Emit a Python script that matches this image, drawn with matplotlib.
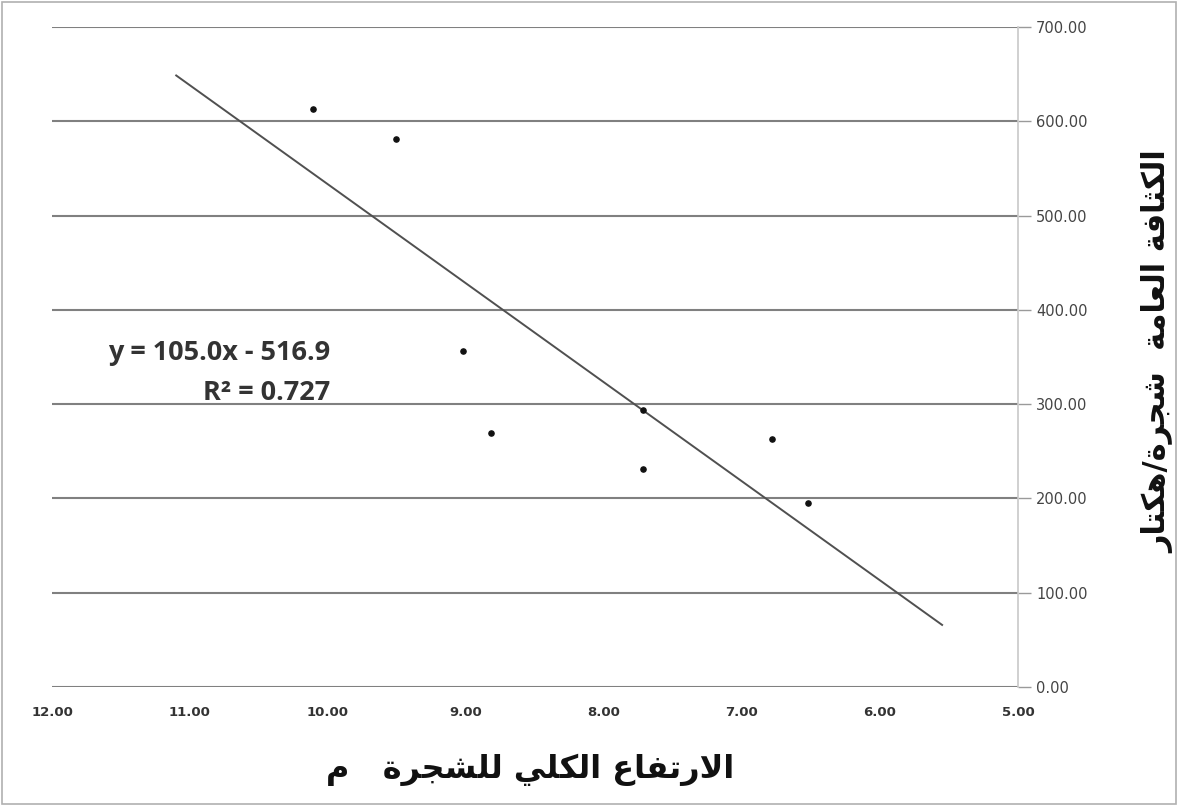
import matplotlib
matplotlib.use("Agg")
import matplotlib.pyplot as plt
from matplotlib.patches import Rectangle

# ---------------- data ----------------
heights = [10.11, 9.51, 9.02, 8.82, 7.72, 7.72, 6.78, 6.52]
densities = [613, 581, 356, 269, 294, 231, 263, 195]
trend_slope = 105.0
trend_intercept = -516.9
trend_x = [11.1, 5.55]
x_ticks = [12, 11, 10, 9, 8, 7, 6, 5]
y_ticks = [0, 100, 200, 300, 400, 500, 600, 700]
eq_text = "y = 105.0x - 516.9"
r2_text = "R² = 0.727"
xlabel_ar = "الارتفاع الكلي للشجرة   م"
ylabel_ar = "الكثافة العامة  شجرة/هكتار"

# ---------------- minimal Arabic shaping ----------------
# letter: (isolated, final, initial, medial); None for right-joining only
FORMS = {
    '\u0627': (0xFE8D, 0xFE8E, None, None),
    '\u0628': (0xFE8F, 0xFE90, 0xFE91, 0xFE92),
    '\u0629': (0xFE93, 0xFE94, None, None),
    '\u062A': (0xFE95, 0xFE96, 0xFE97, 0xFE98),
    '\u062B': (0xFE99, 0xFE9A, 0xFE9B, 0xFE9C),
    '\u062C': (0xFE9D, 0xFE9E, 0xFE9F, 0xFEA0),
    '\u062D': (0xFEA1, 0xFEA2, 0xFEA3, 0xFEA4),
    '\u062E': (0xFEA5, 0xFEA6, 0xFEA7, 0xFEA8),
    '\u062F': (0xFEA9, 0xFEAA, None, None),
    '\u0630': (0xFEAB, 0xFEAC, None, None),
    '\u0631': (0xFEAD, 0xFEAE, None, None),
    '\u0632': (0xFEAF, 0xFEB0, None, None),
    '\u0633': (0xFEB1, 0xFEB2, 0xFEB3, 0xFEB4),
    '\u0634': (0xFEB5, 0xFEB6, 0xFEB7, 0xFEB8),
    '\u0639': (0xFEC9, 0xFECA, 0xFECB, 0xFECC),
    '\u0641': (0xFED1, 0xFED2, 0xFED3, 0xFED4),
    '\u0642': (0xFED5, 0xFED6, 0xFED7, 0xFED8),
    '\u0643': (0xFED9, 0xFEDA, 0xFEDB, 0xFEDC),
    '\u0644': (0xFEDD, 0xFEDE, 0xFEDF, 0xFEE0),
    '\u0645': (0xFEE1, 0xFEE2, 0xFEE3, 0xFEE4),
    '\u0646': (0xFEE5, 0xFEE6, 0xFEE7, 0xFEE8),
    '\u0647': (0xFEE9, 0xFEEA, 0xFEEB, 0xFEEC),
    '\u0648': (0xFEED, 0xFEEE, None, None),
    '\u064A': (0xFEF1, 0xFEF2, 0xFEF3, 0xFEF4),
}


def shape_arabic(text):
    # lam-alef ligature handled as a right-joining letter
    chars = []
    i = 0
    while i < len(text):
        if text[i] == '\u0644' and i + 1 < len(text) and text[i + 1] == '\u0627':
            chars.append('LA')
            i += 2
        else:
            chars.append(text[i])
            i += 1

    def forms(c):
        if c == 'LA':
            return (0xFEFB, 0xFEFC, None, None)
        return FORMS.get(c)

    out = []
    for k, c in enumerate(chars):
        f = forms(c)
        if f is None:
            out.append(c)
            continue
        prev = forms(chars[k - 1]) if k > 0 else None
        nxt = forms(chars[k + 1]) if k + 1 < len(chars) else None
        join_prev = prev is not None and prev[2] is not None
        join_next = nxt is not None and f[2] is not None
        if join_prev and join_next:
            cp = f[3]
        elif join_prev:
            cp = f[1]
        elif join_next:
            cp = f[2]
        else:
            cp = f[0]
        out.append(chr(cp))
    return ''.join(out)[::-1]


# ---------------- figure ----------------
W, H = 1178, 806
fig = plt.figure(figsize=(W / 100, H / 100), dpi=100)
fig.patch.set_facecolor("white")
fig.add_artist(Rectangle((0.002, 0.002), 0.996, 0.996, transform=fig.transFigure,
                         fill=False, edgecolor="#b0b0b0", linewidth=1.2))

ax = fig.add_axes([52 / W, 1 - 687 / H, (1018 - 52) / W, (687 - 27) / H])
ax.set_facecolor("white")
ax.set_xlim(12, 5)
ax.set_ylim(0, 700)

for yv in y_ticks:
    ax.axhline(yv, color="#808080", linewidth=1.5, zorder=1)

ax.plot(trend_x, [trend_slope * v + trend_intercept for v in trend_x],
        color="#505050", linewidth=1.4, zorder=2)
ax.scatter(heights, densities, s=14, color="#111111", zorder=3)

ax.yaxis.tick_right()
ax.set_yticks(y_ticks)
ax.set_yticklabels([f"{v:.2f}" for v in y_ticks], fontsize=10.5, color="#444444")
ax.tick_params(axis="y", which="both", direction="out", length=9, width=1,
               color="#9a9a9a", pad=4, left=False, right=True)
ax.set_xticks(x_ticks)
ax.set_xticklabels([f"{v:.2f}" for v in x_ticks], fontsize=9.5, color="#333333",
                   fontweight="bold")
ax.tick_params(axis="x", length=0, pad=14)

for side in ["top", "left", "bottom"]:
    ax.spines[side].set_visible(False)
ax.spines["right"].set_color("#c8c8c8")
ax.spines["right"].set_linewidth(1.2)

ax.text(0.288, 0.506, eq_text, transform=ax.transAxes, ha="right", va="center",
        fontsize=19.5, fontweight="bold", family="Open Sans", color="#333333")
ax.text(0.288, 0.445, r2_text, transform=ax.transAxes, ha="right", va="center",
        fontsize=19.5, fontweight="bold", family="Open Sans", color="#333333")

fig.text(530 / W, 1 - 770 / H, shape_arabic(xlabel_ar), ha="center", va="center",
         fontsize=23, fontweight="bold", family="DejaVu Sans", color="#111111")
fig.text(1158 / W, 1 - 352 / H, shape_arabic(ylabel_ar), ha="center", va="center",
         rotation=90, fontsize=22, fontweight="bold", family="DejaVu Sans",
         color="#111111")

fig.savefig("out.png", dpi=100)
